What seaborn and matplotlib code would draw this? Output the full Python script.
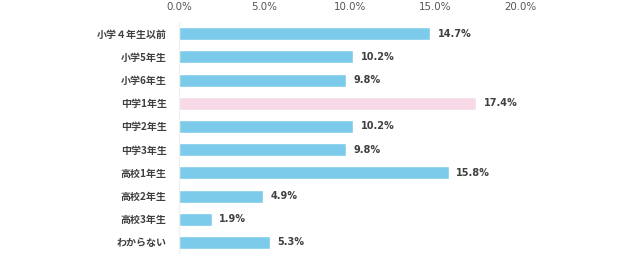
import matplotlib
matplotlib.use("Agg")
import matplotlib.pyplot as plt
import seaborn as sns
import pandas as pd

categories = ["小学４年生以前", "小学5年生", "小学6年生", "中学1年生", "中学2年生",
              "中学3年生", "高校1年生", "高校2年生", "高校3年生", "わからない"]
values = [14.7, 10.2, 9.8, 17.4, 10.2, 9.8, 15.8, 4.9, 1.9, 5.3]
highlight = "中学1年生"

sns.set_theme(style="white")
plt.rcParams['font.family'] = ['Noto Sans CJK JP', 'DejaVu Sans']

df = pd.DataFrame({"cat": categories, "val": values})
blue = "#7ccbeb"
pink = "#f8d9e8"
palette = {c: (pink if c == highlight else blue) for c in categories}

fig = plt.figure(figsize=(6.4, 2.54), dpi=100)
ax = fig.add_axes([0.28, 0.0, 0.5328, 0.913])
sns.barplot(data=df, x="val", y="cat", hue="cat", palette=palette,
            dodge=False, legend=False, width=0.56, ax=ax, saturation=1)

for i, v in enumerate(values):
    ax.text(v + 0.45, i, f"{v:.1f}%", va="center", ha="left",
            fontsize=7, fontweight="bold", color="#404040",
            family=["DejaVu Sans"])

ax.set_xlim(0, 20)
ax.set_ylim(9.5, -0.5)
ax.set_xticks([0, 5, 10, 15, 20])
ax.set_xticklabels([f"{t:.1f}%" for t in [0, 5, 10, 15, 20]],
                   family=["DejaVu Sans"])
ax.xaxis.tick_top()
ax.tick_params(axis="x", length=0, pad=7, labelsize=7.4, labelcolor="#555555")
ax.tick_params(axis="y", length=0, pad=9, labelsize=7.2, labelcolor="#404040")
for lbl in ax.get_yticklabels():
    lbl.set_fontweight("bold")
ax.set_xlabel("")
ax.set_ylabel("")
for s in ["top", "right", "bottom"]:
    ax.spines[s].set_visible(False)
ax.spines["left"].set_color("#eeeeee")
ax.spines["left"].set_linewidth(0.8)

fig.savefig("out.png", dpi=100)
